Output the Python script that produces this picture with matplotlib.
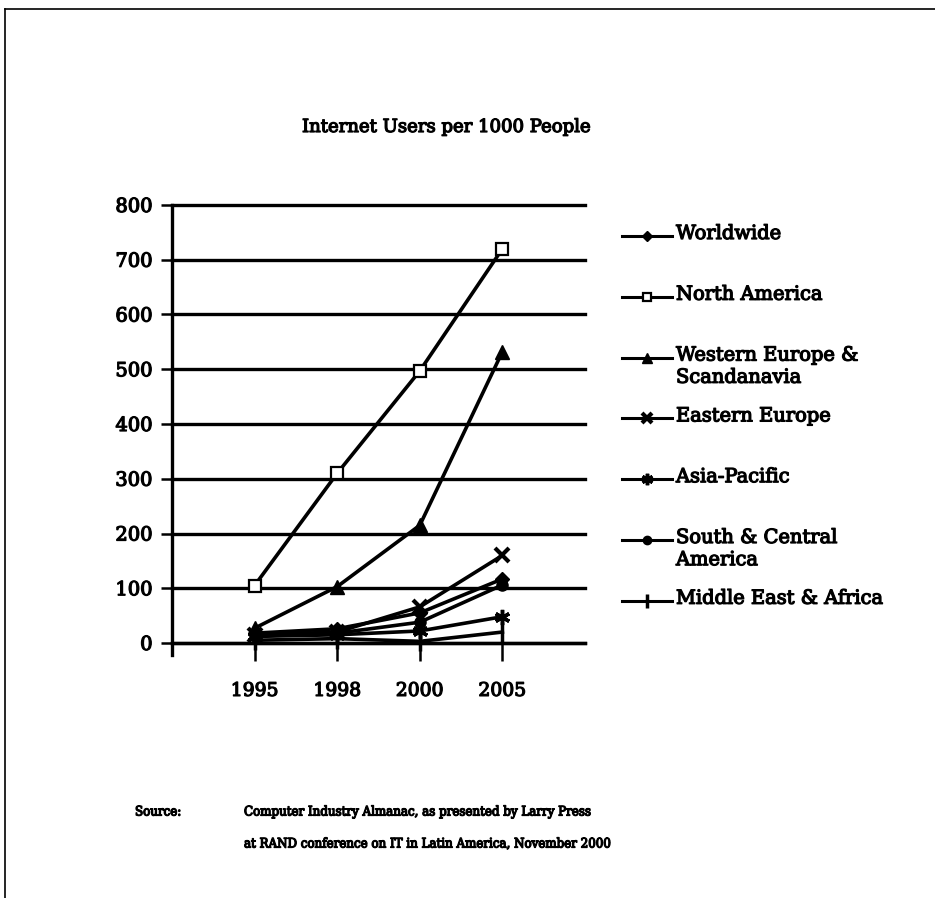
import matplotlib
matplotlib.use("Agg")
import matplotlib.pyplot as plt
from matplotlib.lines import Line2D
import matplotlib.patheffects as pe

plt.rcParams['font.family'] = ['DejaVu Serif']

years = ["1995", "1998", "2000", "2005"]
worldwide = [18, 26, 55, 117]
north_america = [105, 310, 497, 720]
western_europe = [27, 103, 215, 532]
eastern_europe = [15, 20, 66, 160]
asia_pacific = [12, 15, 22, 48]
south_central_america = [13, 18, 38, 106]
middle_east_africa = [5, 8, 3, 20]

series_names = ["Worldwide", "North America", "Western Europe &\nScandanavia",
                "Eastern Europe", "Asia-Pacific", "South & Central\nAmerica",
                "Middle East & Africa"]
series_values = [worldwide, north_america, western_europe, eastern_europe,
                 asia_pacific, south_central_america, middle_east_africa]
y_ticks = [0, 100, 200, 300, 400, 500, 600, 700, 800]

styles = [
    dict(marker='D', ms=7, mfc='black', mec='black'),
    dict(marker='s', ms=8, mfc='white', mec='black', mew=1.6),
    dict(marker='^', ms=10, mfc='black', mec='black'),
    dict(marker='x', ms=10, mfc='black', mec='black', mew=3),
    dict(marker=(6, 2, 0), ms=11, mfc='black', mec='black', mew=2.5),
    dict(marker='o', ms=8, mfc='black', mec='black'),
    dict(marker='|', ms=14, mfc='black', mec='black', mew=2.5),
]

heavy = [pe.withStroke(linewidth=0.9, foreground='black')]

W, H = 935, 898
fig = plt.figure(figsize=(W / 100, H / 100), dpi=100)

def fx(px):
    return px / W

def fy(py):
    return 1 - py / H

left, right, top, bottom = 172, 585, 205, 643
ax = fig.add_axes([fx(left), fy(bottom), fx(right) - fx(left), fy(top) - fy(bottom)])

xs = list(range(1, len(years) + 1))
for vals, st in zip(series_values, styles):
    ax.plot(xs, vals, color='black', lw=2.6, clip_on=False, zorder=3, **st)

ax.set_xlim(0, 5)
ax.set_ylim(0, 800)
ax.set_yticks(y_ticks)
ax.set_yticklabels([str(v) for v in y_ticks], fontsize=14)
ax.set_xticks(xs)
ax.set_xticklabels(years, fontsize=13.5)
for t in ax.get_xticklabels() + ax.get_yticklabels():
    t.set_path_effects(heavy)
ax.yaxis.grid(True, color='black', lw=2.4)
for gl in ax.get_ygridlines():
    gl.set_clip_on(False)
ax.set_axisbelow(True)
for s in ['top', 'right']:
    ax.spines[s].set_visible(False)
ax.spines['left'].set_linewidth(2.4)
ax.spines['bottom'].set_linewidth(2.4)
ax.spines['left'].set_bounds(-22, 800)
ax.tick_params(axis='y', direction='out', length=8, width=1.8, pad=6)
ax.tick_params(axis='x', direction='out', length=13, width=1.8, pad=15)

fig.text(fx(446), fy(127), "Internet Users per 1000 People", ha='center', va='center',
         fontsize=13, path_effects=heavy)

# legend
for i, (name, st) in enumerate(zip(series_names, styles)):
    yc = 236 + i * 60.8
    fig.lines.append(Line2D([fx(622), fx(672)], [fy(yc), fy(yc)], transform=fig.transFigure,
                            color='black', lw=2.2))
    fig.lines.append(Line2D([fx(647)], [fy(yc)], transform=fig.transFigure,
                            color='black', lw=0, **{**st, 'ms': st['ms'] * 0.75}))
    fig.text(fx(676), fy(yc - 11), name, ha='left', va='top', fontsize=14,
             linespacing=1.3, path_effects=heavy)

src_kw = dict(ha='left', va='center', fontsize=9.5, fontstretch='condensed', path_effects=heavy)
fig.text(fx(135), fy(812), "Source:", **src_kw)
fig.text(fx(244), fy(812), "Computer Industry Almanac, as presented by Larry Press", **src_kw)
fig.text(fx(244), fy(844), "at RAND conference on IT in Latin America, November 2000", **src_kw)

# page frame
fig.lines.append(Line2D([fx(5), fx(5)], [fy(9), fy(898)], transform=fig.transFigure,
                        color='black', lw=1.2))
fig.lines.append(Line2D([fx(5), fx(935)], [fy(9), fy(9)], transform=fig.transFigure,
                        color='black', lw=1.2))

fig.savefig("out.png", dpi=100)
